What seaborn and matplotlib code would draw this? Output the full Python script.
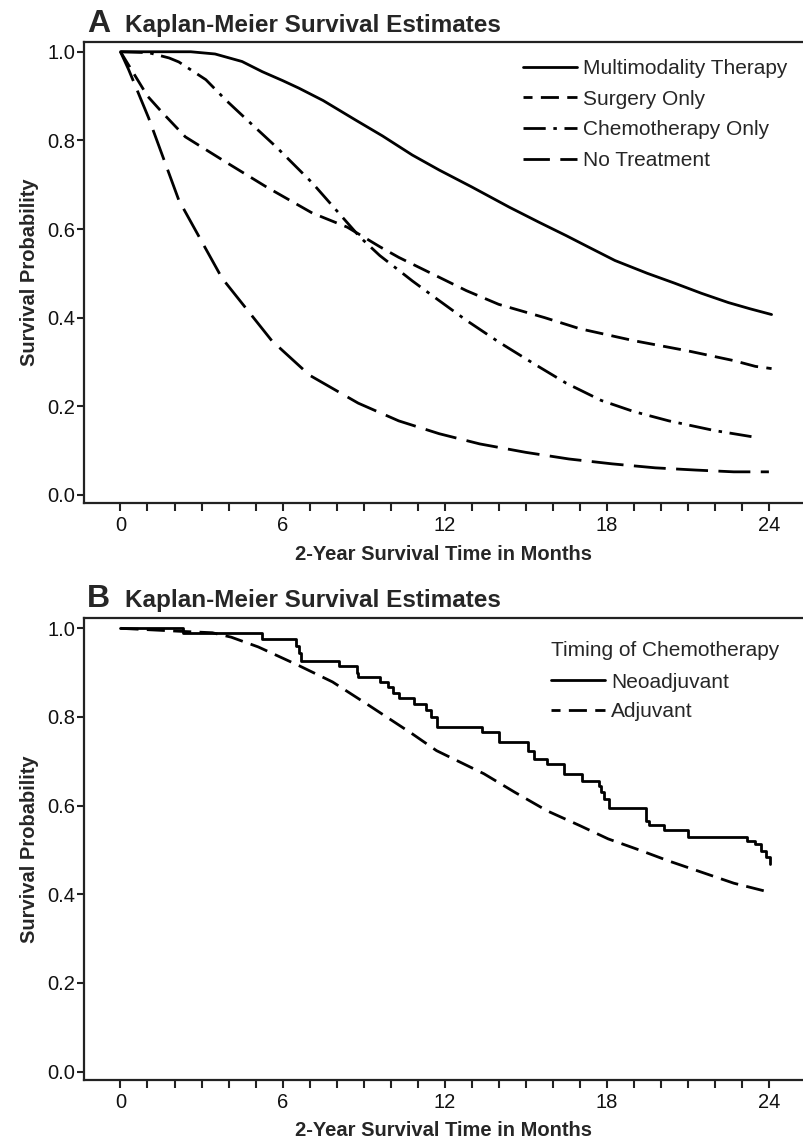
import numpy as np
import pandas as pd
import seaborn as sns
import matplotlib.pyplot as plt
from matplotlib.ticker import FixedLocator, FormatStrFormatter

sns.set_theme(style="white")
plt.rcParams['font.family'] = ['Liberation Sans', 'DejaVu Sans']
plt.rcParams['lines.scale_dashes'] = False

# panel A: survival estimates by treatment
mm_t = [0, 1, 2, 2.6, 3.5, 4.5, 5.25, 6, 6.6, 7.5, 8.7, 9.7, 10.8, 11.8, 13, 14.4,
        15.5, 16.5, 17.3, 18.3, 19.5, 20.5, 21.5, 22.5, 23.3, 24.1]
mm_s = [1.0, 1.0, 1.0, 1.0, 0.995, 0.978, 0.955, 0.935, 0.918, 0.89, 0.846, 0.81,
        0.767, 0.733, 0.695, 0.649, 0.615, 0.585, 0.56, 0.529, 0.50, 0.478, 0.455,
        0.434, 0.42, 0.407]
su_t = [0, 0.5, 1.0, 1.53, 2.4, 3.9, 5.4, 7.1, 8.4, 9.6, 10.3, 11.5, 12.8, 14.0,
        15.7, 17.0, 19.0, 21.0, 22.7, 23.5, 24.1]
su_s = [1.0, 0.95, 0.9, 0.864, 0.808, 0.751, 0.695, 0.636, 0.604, 0.56, 0.536,
        0.50, 0.461, 0.43, 0.40, 0.375, 0.348, 0.325, 0.303, 0.29, 0.285]
ch_t = [0, 1.04, 1.8, 2.16, 3.16, 3.9, 4.76, 5.77, 7.1, 8.86, 9.6, 10.34, 10.8,
        11.76, 12.8, 14.0, 15.3, 16.5, 17.8, 19.0, 20.3, 22.0, 23.6]
ch_s = [1.0, 0.998, 0.986, 0.977, 0.937, 0.891, 0.842, 0.785, 0.704, 0.582, 0.54,
        0.505, 0.483, 0.44, 0.394, 0.345, 0.296, 0.252, 0.213, 0.188, 0.167, 0.145,
        0.129]
nt_t = [0, 0.3, 1.04, 2.16, 3.76, 5.6, 7.0, 8.8, 10.3, 11.8, 13.3, 15.0, 16.6,
        18.2, 19.8, 21.3, 22.7, 24.0]
nt_s = [1.0, 0.96, 0.851, 0.665, 0.489, 0.348, 0.27, 0.207, 0.167, 0.138, 0.115,
        0.096, 0.081, 0.07, 0.061, 0.056, 0.052, 0.052]
groups_a = ["Multimodality Therapy", "Surgery Only", "Chemotherapy Only", "No Treatment"]

# panel B: timing of chemotherapy
neo_t = [0, 2.3, 5.25, 6.5, 6.6, 6.7, 8.1, 8.75, 8.8, 9.6, 9.9, 10.1, 10.3, 10.85,
         11.3, 11.5, 11.7, 13.4, 14.0, 15.1, 15.3, 15.8, 16.4, 17.1, 17.7, 17.8,
         17.9, 18.1, 19.45, 19.55, 20.1, 21.0, 23.2, 23.5, 23.7, 23.9, 24.05]
neo_s = [1.0, 0.989, 0.977, 0.96, 0.945, 0.927, 0.914, 0.90, 0.89, 0.879, 0.867,
         0.854, 0.842, 0.830, 0.815, 0.800, 0.778, 0.765, 0.743, 0.724, 0.706,
         0.694, 0.672, 0.656, 0.645, 0.63, 0.615, 0.595, 0.566, 0.557, 0.545,
         0.529, 0.520, 0.513, 0.498, 0.483, 0.468]
adj_t = [0, 2.3, 3.4, 4.1, 5.1, 6.6, 7.85, 9.2, 10.8, 11.7, 13.45, 14.6, 15.8,
         17.0, 18.05, 19.2, 20.3, 21.5, 22.7, 24.0]
adj_s = [1.0, 0.993, 0.99, 0.98, 0.958, 0.916, 0.879, 0.826, 0.762, 0.724, 0.672,
         0.63, 0.588, 0.555, 0.525, 0.50, 0.475, 0.45, 0.425, 0.405]

xticks = [0, 6, 12, 18, 24]
xminor = list(range(0, 25))
yticks = [0.0, 0.2, 0.4, 0.6, 0.8, 1.0]

df_a = pd.concat([
    pd.DataFrame({"month": t, "surv": s, "group": g})
    for t, s, g in zip([mm_t, su_t, ch_t, nt_t], [mm_s, su_s, ch_s, nt_s], groups_a)
])
dash_a = {"Multimodality Therapy": "", "Surgery Only": (13, 6),
          "Chemotherapy Only": (16, 5.5, 2.5, 5.5), "No Treatment": (23, 7.5)}

fig = plt.figure(figsize=(8.04, 11.44), dpi=100)
W, H = 804, 1144
axA = fig.add_axes([84 / W, 1 - 503.3 / H, 1 - 84 / W, (503.3 - 41.7) / H])
axB = fig.add_axes([84 / W, 1 - 1080 / H, 1 - 84 / W, (1080 - 618.3) / H])

sns.lineplot(data=df_a, x="month", y="surv", hue="group", style="group",
             hue_order=groups_a, style_order=groups_a,
             palette={g: "black" for g in groups_a}, dashes=dash_a,
             estimator=None, errorbar=None, lw=2.0, legend=False, ax=axA)

sns.lineplot(x=neo_t, y=neo_s, color="black", lw=2.0, drawstyle="steps-post",
             estimator=None, errorbar=None, ax=axB)
sns.lineplot(x=adj_t, y=adj_s, color="black", lw=2.0,
             estimator=None, errorbar=None, ax=axB)
axB.lines[1].set_dashes((13, 6))

for ax, ylo, yhi in [(axA, -0.019, 1.0227), (axB, -0.019, 1.0226)]:
    ax.set_xlim(-1.35, 25.3)
    ax.set_ylim(ylo, yhi)
    ax.xaxis.set_major_locator(FixedLocator(xticks))
    ax.xaxis.set_minor_locator(FixedLocator(xminor))
    ax.set_yticks(yticks)
    ax.yaxis.set_major_formatter(FormatStrFormatter("%.1f"))
    ax.tick_params(axis="both", which="both", direction="out", length=5,
                   width=1.5, color="#222222", labelsize=14.5, labelcolor="#111111",
                   bottom=True, left=True, pad=1.5)
    ax.tick_params(axis="x", which="both", length=6, pad=3)
    for side in ["left", "top", "bottom"]:
        ax.spines[side].set_visible(True)
        ax.spines[side].set_linewidth(1.6)
        ax.spines[side].set_color("#222222")
    ax.spines["right"].set_visible(False)
    ax.set_xlabel("2-Year Survival Time in Months", fontsize=14.5,
                  fontweight="bold", labelpad=7)
    ax.set_ylabel("Survival Probability", fontsize=14.5, fontweight="bold",
                  labelpad=6)
    ax.grid(False)

legA = axA.legend(axA.lines, groups_a, loc="upper left",
                  bbox_to_anchor=(522.7 / W, 1 - 59 / H), bbox_transform=fig.transFigure,
                  frameon=False, fontsize=15, handlelength=2.6, handletextpad=0.3,
                  labelspacing=0.56, borderpad=0, borderaxespad=0)
legB = axB.legend(axB.lines, ["Neoadjuvant", "Adjuvant"], loc="upper left",
                  title="Timing of Chemotherapy", title_fontsize=15,
                  bbox_to_anchor=(551 / W, 1 - 641 / H), bbox_transform=fig.transFigure,
                  frameon=False, fontsize=15, handlelength=2.6, handletextpad=0.3,
                  labelspacing=0.5, borderpad=0, borderaxespad=0, alignment="left")
legB._legend_box.sep = 9

# centre the dash patterns inside the legend keys
legA.get_lines()[1].set_linestyle((6.5, (13, 6)))
legA.get_lines()[3].set_linestyle((4, (23, 7.5)))
legB.get_lines()[1].set_linestyle((6.5, (13, 6)))

for letter, ybase in [("A", 31.7), ("B", 606.7)]:
    fig.text(87 / W, 1 - ybase / H, letter, fontsize=23, fontweight="bold",
             va="baseline", ha="left")
    fig.text(125 / W, 1 - ybase / H, "Kaplan-Meier Survival Estimates",
             fontsize=17.5, fontweight="bold", va="baseline", ha="left")

fig.savefig("out.png", dpi=100)
